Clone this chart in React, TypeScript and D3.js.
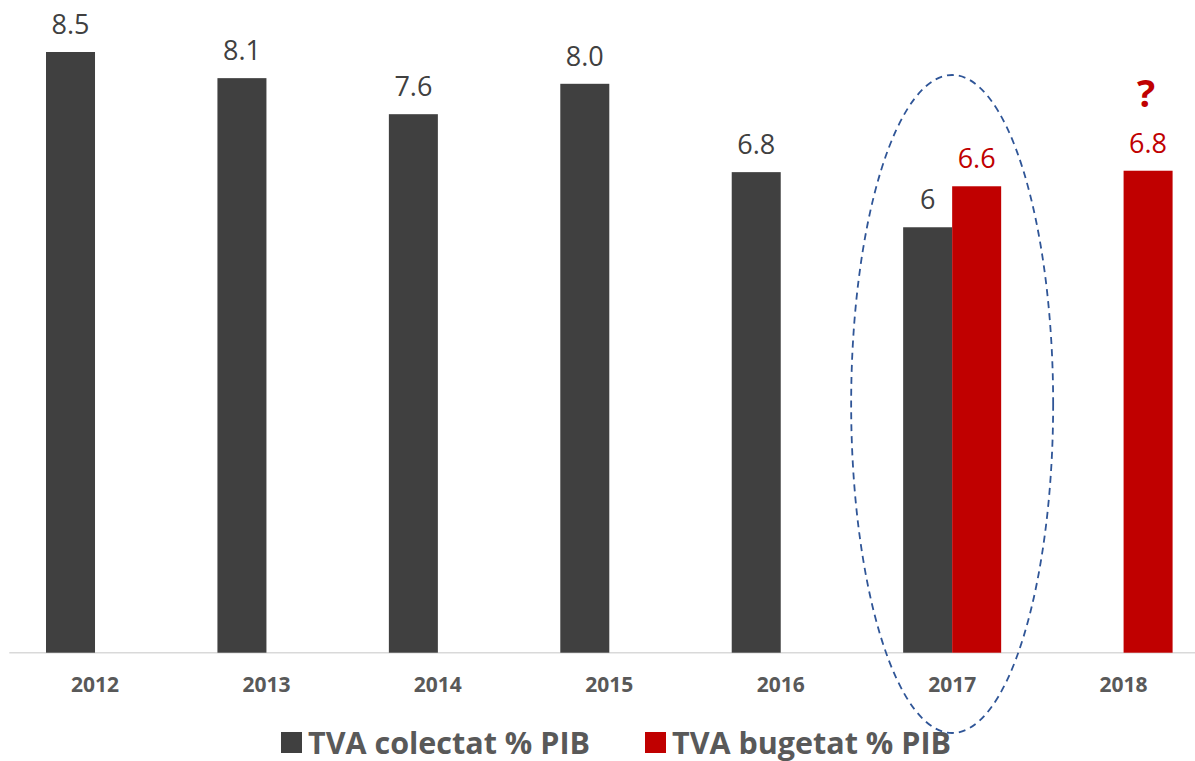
import * as React from "react";
import * as d3 from "d3";

const years = ["2012", "2013", "2014", "2015", "2016", "2017", "2018"];
const colectat = [8.5, 8.13, 7.62, 8.05, 6.8, 6.02, null];
const colectatLabels = ["8.5", "8.1", "7.6", "8.0", "6.8", "6", ""];
const bugetat = [null, null, null, null, null, 6.6, 6.82];
const bugetatLabels = ["", "", "", "", "", "6.6", "6.8"];
const seriesNames = ["TVA colectat % PIB", "TVA bugetat % PIB"];
const seriesKeys = ["colectat", "bugetat"];
const highlightYear = "2017";
const questionYear = "2018";

const DARK = "#404040";
const RED = "#C00000";
const FONT = "'Open Sans', sans-serif";

function App() {
  const width = 1195;
  const height = 761;
  const baseline = 652.7;

  // category band runs past the right edge, like the cropped original
  const x = d3.scaleBand().domain(years).range([9.3, 1209.3]).padding(0);
  const inner = d3
    .scaleBand()
    .domain(seriesKeys)
    .range([0, x.step()])
    .paddingInner(0)
    .paddingOuter(0.749);
  const y = d3.scaleLinear().domain([0, 8.5]).range([baseline, 52]);

  const colors = d3.scaleOrdinal<string, string>().domain(seriesKeys).range([DARK, RED]);
  const values = { colectat: colectat, bugetat: bugetat };
  const labels = { colectat: colectatLabels, bugetat: bugetatLabels };

  const bars = () => {
    return seriesKeys.map((key) =>
      years.map((yr, i) => {
        const v = values[key][i];
        if (v == null) return null;
        const bx = (x(yr) as number) + (inner(key) as number);
        const bw = inner.bandwidth();
        return (
          <g key={key + yr}>
            <rect x={bx} y={y(v)} width={bw} height={baseline - y(v)} fill={colors(key)} />
            <text
              x={bx + bw / 2}
              y={y(v) - 18}
              textAnchor="middle"
              fontFamily={FONT}
              fontSize={27}
              fill={key === "bugetat" ? RED : DARK}
            >
              {labels[key][i]}
            </text>
          </g>
        );
      })
    );
  };

  const axis = () => {
    return (
      <g>
        <line x1={x.range()[0]} x2={x.range()[1]} y1={baseline} y2={baseline} stroke="#D9D9D9" strokeWidth={1.5} />
        {years.map((yr) => (
          <text
            key={yr}
            x={(x(yr) as number) + x.bandwidth() / 2}
            y={692}
            textAnchor="middle"
            fontFamily={FONT}
            fontWeight="bold"
            fontSize={21}
            fill="#595959"
          >
            {yr}
          </text>
        ))}
      </g>
    );
  };

  const legendX = [281, 645];
  const legend = () => {
    return seriesNames.map((name, i) => (
      <g key={name} transform={`translate(${legendX[i]}, 732)`}>
        <rect width={21} height={21} fill={colors(seriesKeys[i])} />
        <text x={27} y={22} fontFamily={FONT} fontWeight="bold" fontSize={30.5} fill="#595959">
          {name}
        </text>
      </g>
    ));
  };

  const hx = (x(highlightYear) as number) + x.bandwidth() / 2;
  const qi = years.indexOf(questionYear);
  const qx = (x(questionYear) as number) + (inner("bugetat") as number) + inner.bandwidth() / 2;

  return (
    <svg
      width={width}
      height={height}
      style={{ position: "absolute", left: 0, top: 0, background: "#fff" }}
    >
      {axis()}
      {bars()}
      <text
        x={qx - 2}
        y={y(bugetat[qi] as number) - 64}
        textAnchor="middle"
        fontFamily={FONT}
        fontWeight="bold"
        fontSize={38}
        fill={RED}
      >
        ?
      </text>
      {legend()}
      <ellipse
        cx={hx}
        cy={404}
        rx={101}
        ry={329}
        fill="none"
        stroke="#2F5597"
        strokeWidth={1.8}
        strokeDasharray="7,5"
      />
    </svg>
  );
}

export default App;
